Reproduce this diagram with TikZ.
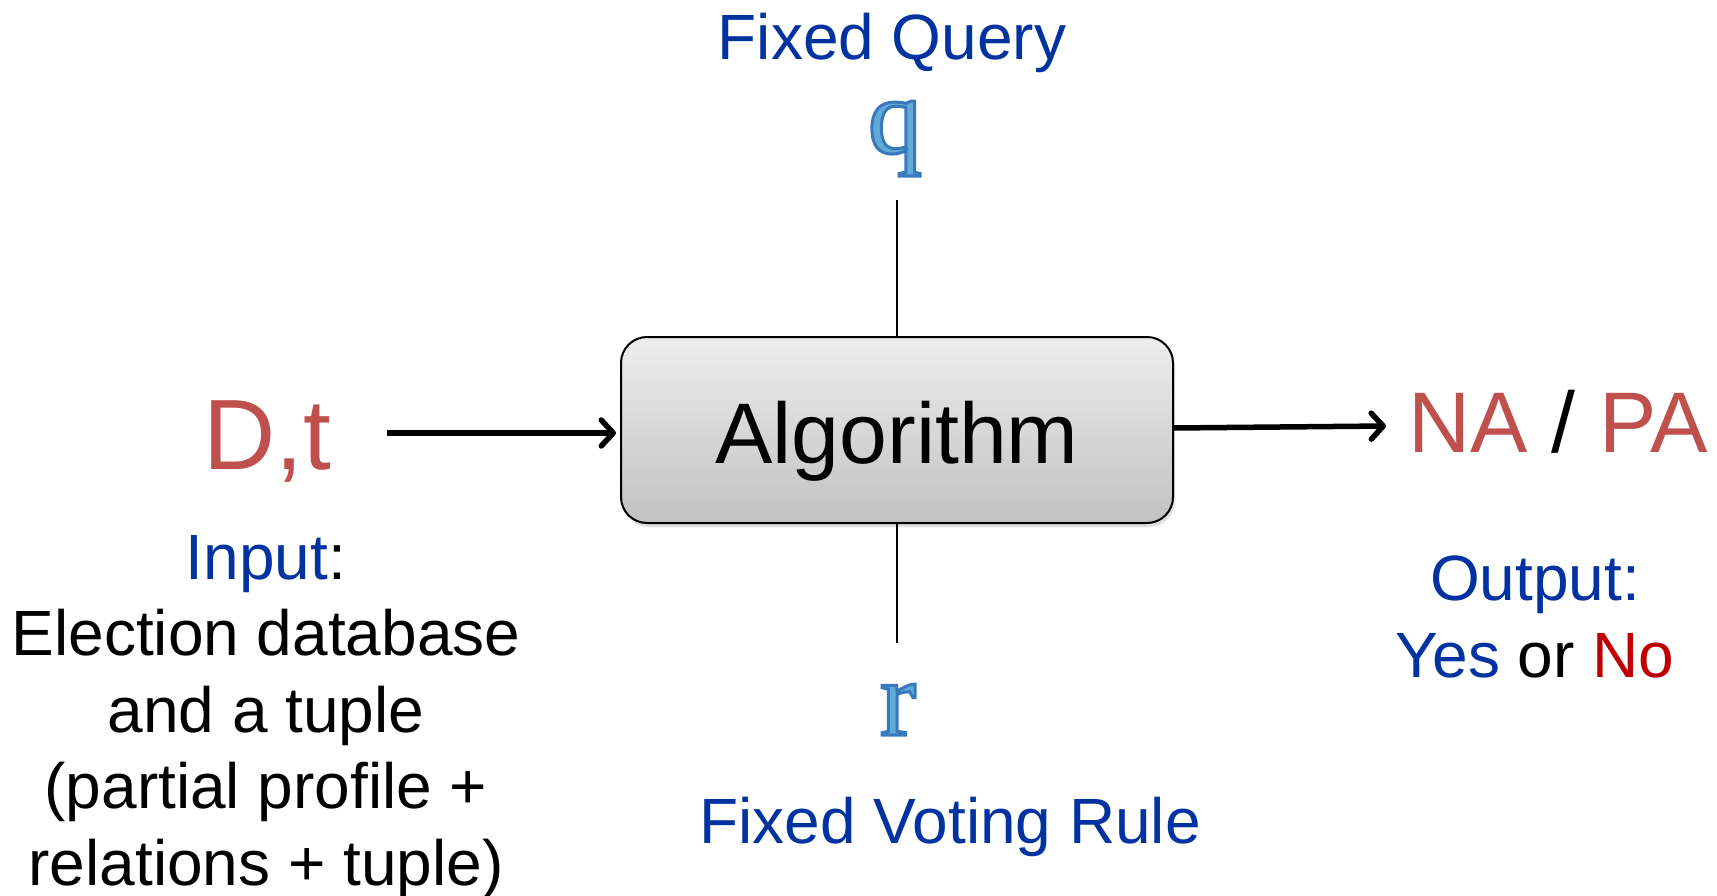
\documentclass[tikz,border=0pt]{standalone}
\usepackage{fontspec}
\setmainfont{Liberation Sans}
\newfontfamily\qfont{Liberation Serif}
\usetikzlibrary{arrows.meta,shadows}
\definecolor{dblue}{HTML}{0033A0}
\definecolor{accred}{HTML}{C0504D}
\definecolor{nored}{HTML}{C00000}
\definecolor{qblue}{HTML}{62AAD6}
\newcommand\outlined[1]{\special{pdf:literal direct 2 Tr 3 w 0.22 0.47 0.74 RG}#1\special{pdf:literal direct 0 Tr 1 w 0 G}}
\begin{document}
\begin{tikzpicture}[x=1pt,y=-1pt,
  bigtxt/.style={font=\fontsize{64}{76.5}\selectfont, inner sep=0pt, anchor=base, align=center},
  redtxt/.style={inner sep=0pt, anchor=base, text=accred},
  lettertxt/.style={font=\qfont\fontsize{108}{120}\selectfont, inner sep=0pt, anchor=base, text=qblue},
  algobox/.style={draw=black, line width=2pt, rounded corners=26pt, minimum width=552pt, minimum height=186pt,
    top color=gray!14, bottom color=gray!48, inner sep=0pt,
    drop shadow={shadow xshift=2pt, shadow yshift=-4pt, opacity=0.25}},
  flowarrow/.style={line width=5.5pt, -{Straight Barb[length=12pt, width=26pt, round]}},
  vline/.style={line width=1.5pt}]
\useasboundingbox (0,0) rectangle (1717,896);

\node[algobox] (algo) at (897,430) {};
\node[font=\fontsize{86}{100}\selectfont, inner sep=0pt, anchor=base] (algotxt) at (897,463) {Algorithm};

\node[bigtxt, text=dblue] (fq) at (892,60) {Fixed Query};
\node[bigtxt, text=dblue] (fvr) at (950,843) {Fixed Voting Rule};

\coordinate (qend) at (897,200);
\coordinate (rend) at (897,643);
\draw[vline] (qend) -- (algo.north);
\draw[vline] (algo.south) -- (rend);

\node[redtxt, font=\fontsize{100}{110}\selectfont] (dt) at (267,469) {D,t};
\coordinate (ain) at (387,433);
\draw[flowarrow, shorten >=4pt] (ain) -- (ain -| algo.west);

\coordinate (aout) at (1386,426);
\draw[flowarrow] ([yshift=2pt]algo.east) -- (aout);
\node[redtxt, font=\fontsize{86}{100}\selectfont] (napa) at (1558,452) {NA \textcolor{black}{/} PA};

\node[bigtxt] (input) at (266,885) {\textcolor{dblue}{Input}:\\Election database\\and a tuple\\(partial profile +\\relations + tuple)};
\node[bigtxt] (output) at (1535,677) {\textcolor{dblue}{Output:}\\\textcolor{dblue}{Yes} or \textcolor{nored}{No}};

\node[lettertxt] (q) at (895,153) {\outlined{q}};
\node[lettertxt] (r) at (898,735) {\outlined{r}};
\end{tikzpicture}
\end{document}
